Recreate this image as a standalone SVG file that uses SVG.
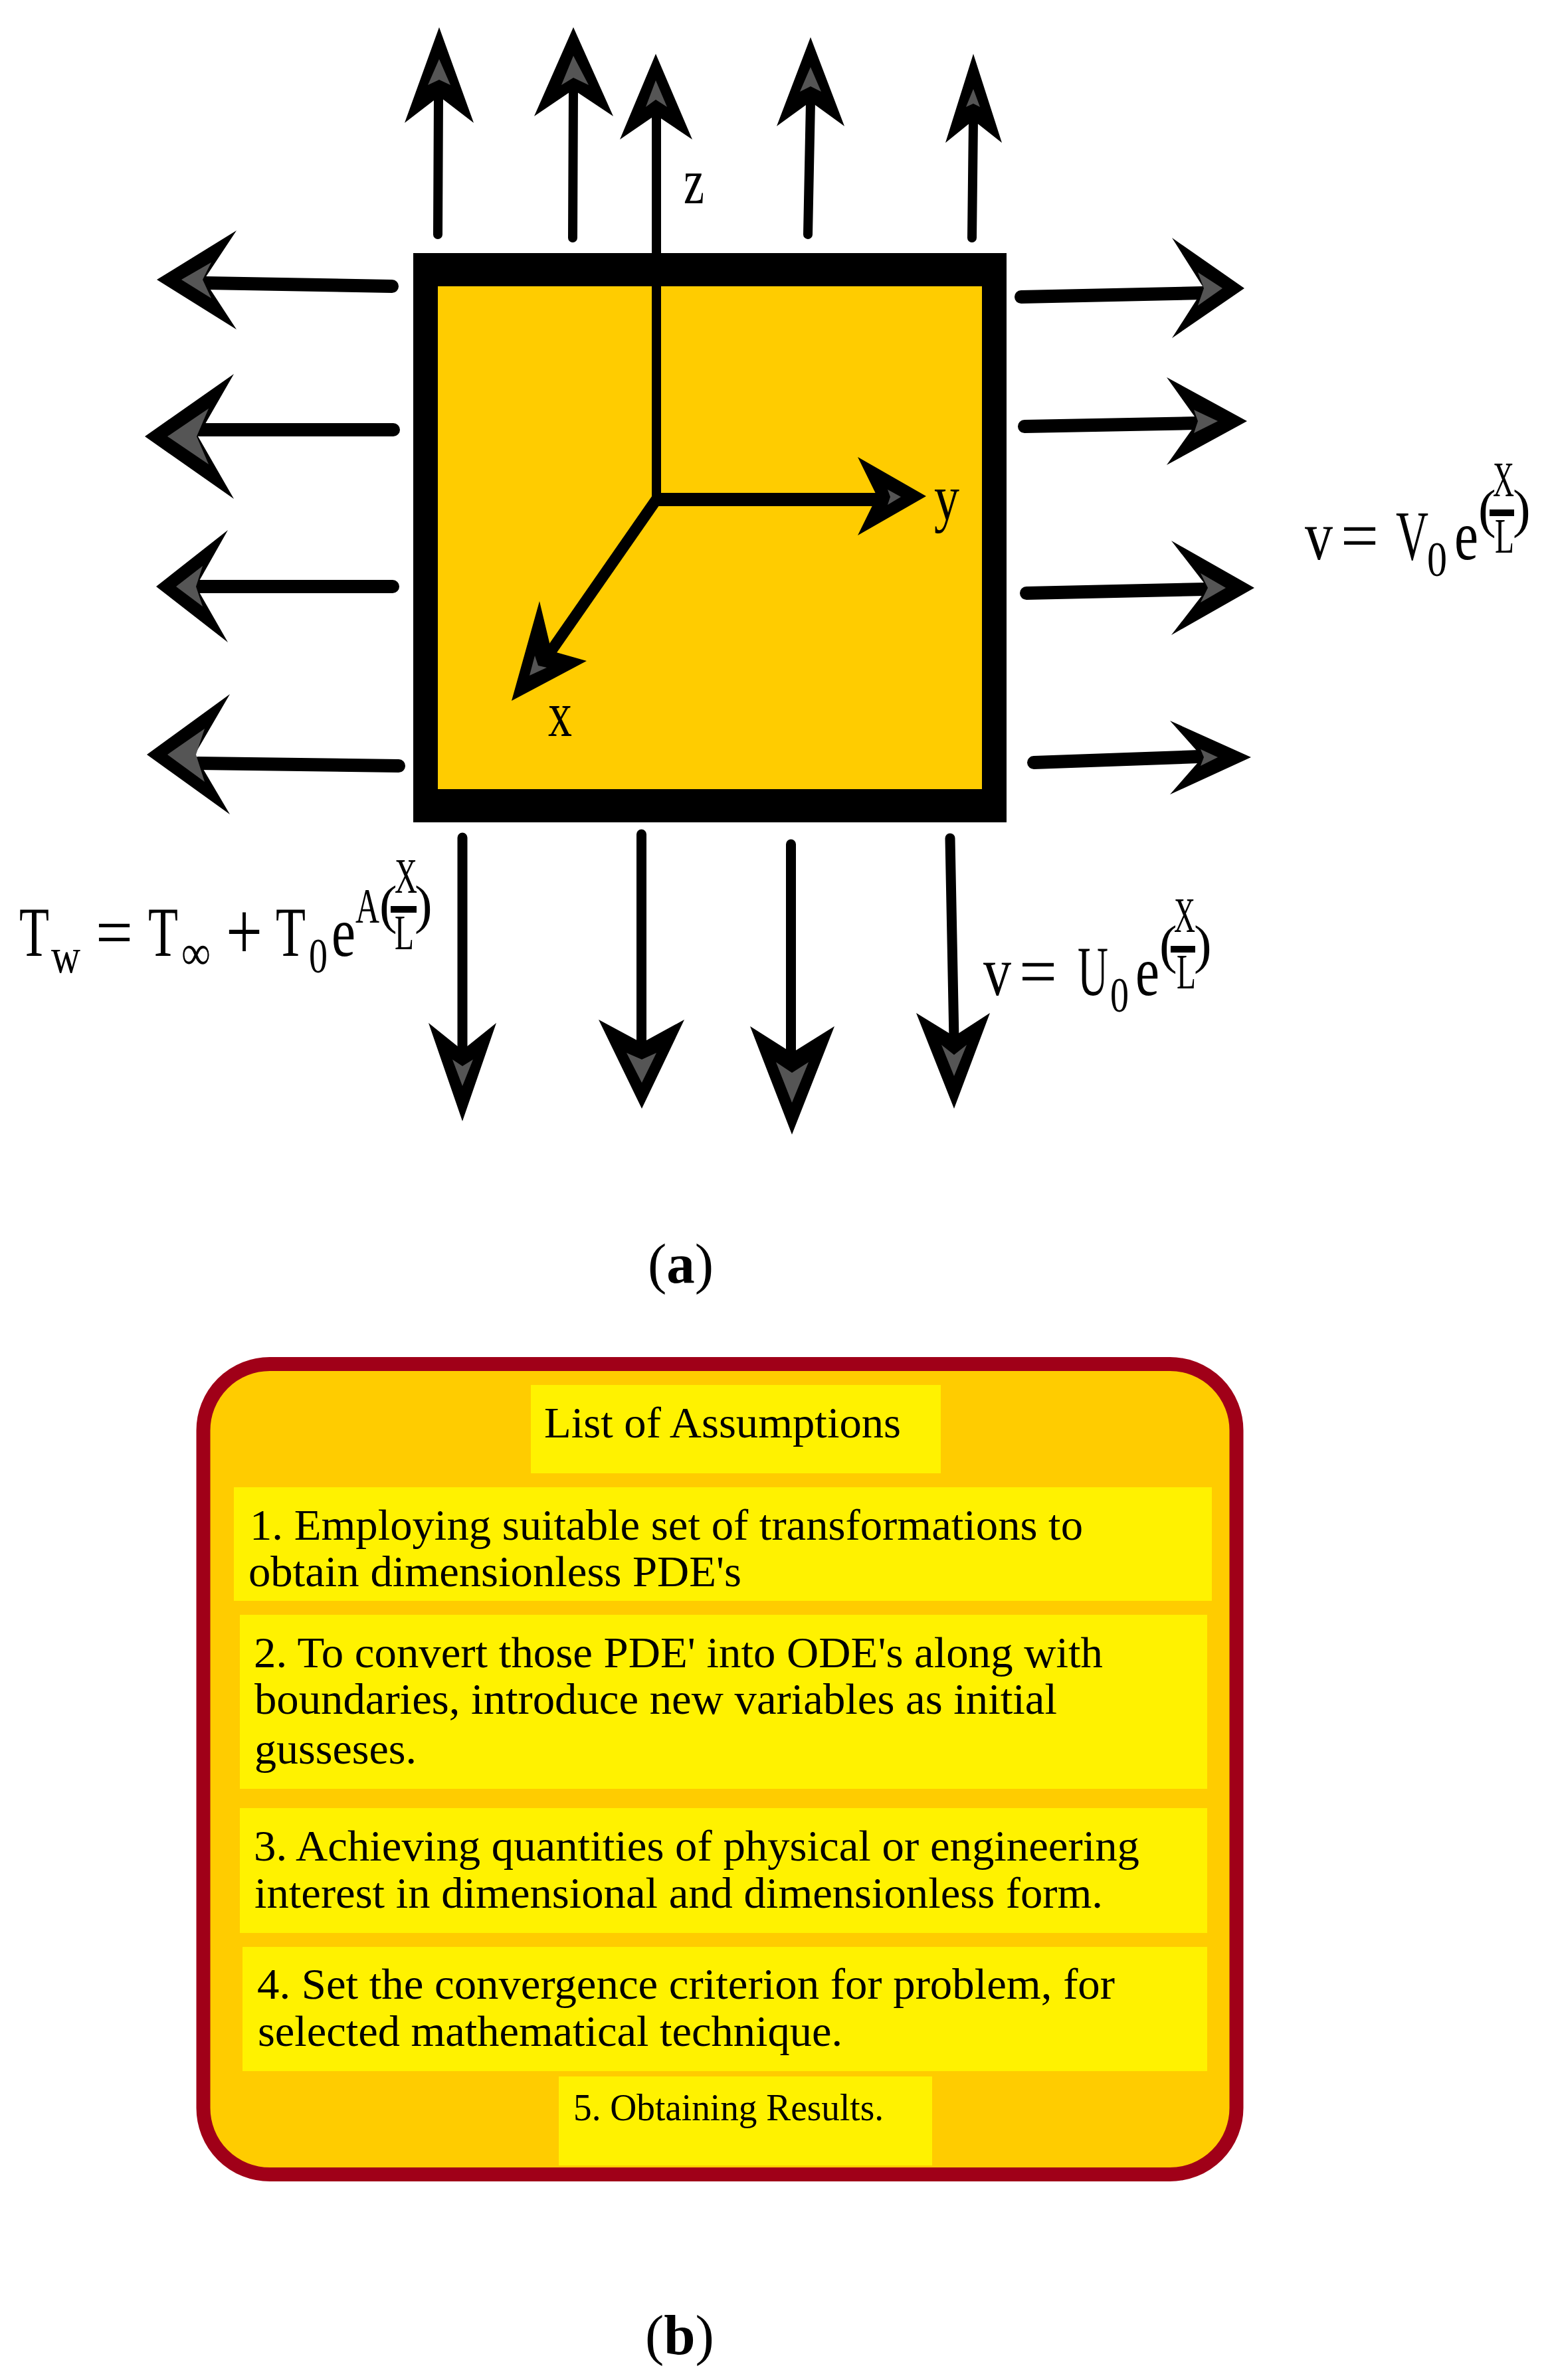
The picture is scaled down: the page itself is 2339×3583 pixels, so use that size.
<svg xmlns="http://www.w3.org/2000/svg" width="2339" height="3583" viewBox="0 0 2339 3583">
<style>
text{font-family:"Liberation Serif","Times New Roman",serif;fill:#000}
.sh{stroke:#000;stroke-linecap:round;fill:none}
.s14{stroke-width:14}.s15{stroke-width:15}.s20{stroke-width:20}
.b{fill:#000}.g{fill:#555}
.big{font-size:105px}.sub{font-size:74px}.par{font-size:80px}.plus{font-size:125px}
.lab{font-size:97px}.cap{font-size:85px}
.t65{font-size:65px}.t63{font-size:63px}.t57{font-size:57px}
.yb{fill:#FFF200}
</style>
<rect width="2339" height="3583" fill="#fff"/>
<g id="plate"><rect x="622" y="381" width="893" height="857" fill="#000"/><rect x="659" y="431" width="819" height="757" fill="#FFCC00"/></g>
<g id="connectors">
<g id="up1"><path class="sh s14" d="M659 353L660 145"/><path class="b" d="M661 41L713 185L661 145L609 185Z"/><path class="g" d="M661 89L678 128L661 120L644 128Z"/></g>
<g id="up2"><path class="sh s14" d="M862 358L863 135"/><path class="b" d="M863 41L923 175L863 135L804 175Z"/><path class="g" d="M863 84L886 128L863 117L845 128Z"/></g>
<g id="axis-z"><path class="sh s14" style="stroke-linecap:butt" d="M988 759V173"/><path class="b" d="M987 81L1042 210L987 173L933 210Z"/><path class="g" d="M987 121L1004 161L987 150L972 161Z"/></g>
<g id="up4"><path class="sh s14" d="M1216 353L1220 153"/><path class="b" d="M1220 56L1271 190L1220 153L1169 190Z"/><path class="g" d="M1220 101L1236 138L1220 130L1204 138Z"/></g>
<g id="up5"><path class="sh s14" d="M1463 358L1465 181"/><path class="b" d="M1465 81L1508 215L1465 181L1423 215Z"/><path class="g" d="M1465 134L1475 161L1465 156L1454 161Z"/></g>
<g id="left1"><path class="sh s20" d="M590 431L310 426"/><path class="b" d="M236 421L356 347L307 421L356 496Z"/><path class="g" d="M273 421L318 395L305 421L318 449Z"/></g>
<g id="left2"><path class="sh s20" d="M592 647L300 647"/><path class="b" d="M218 657L352 563L298 657L352 751Z"/><path class="g" d="M252 657L314 615L296 657L314 699Z"/></g>
<g id="left3"><path class="sh s20" d="M591 883L298 883"/><path class="b" d="M235 883L343 798L295 883L343 967Z"/><path class="g" d="M265 883L305 852L295 883L305 913Z"/></g>
<g id="left4"><path class="sh s20" d="M600 1153L298 1149"/><path class="b" d="M221 1136L346 1045L293 1136L346 1226Z"/><path class="g" d="M252 1136L308 1097L295 1136L308 1177Z"/></g>
<g id="right1"><path class="sh s20" d="M1537 447L1810 441"/><path class="b" d="M1873 434L1764 358L1812 434L1764 509Z"/><path class="g" d="M1840 434L1803 410L1812 434L1803 460Z"/></g>
<g id="right2"><path class="sh s20" d="M1542 642L1800 637"/><path class="b" d="M1877 634L1756 568L1803 634L1756 700Z"/><path class="g" d="M1833 634L1797 617L1803 634L1797 652Z"/></g>
<g id="right3"><path class="sh s20" d="M1545 893L1815 887"/><path class="b" d="M1888 885L1763 814L1818 885L1763 956Z"/><path class="g" d="M1845 885L1807 863L1818 885L1807 907Z"/></g>
<g id="right4"><path class="sh s20" d="M1556 1148L1805 1139"/><path class="b" d="M1883 1140L1761 1085L1810 1140L1761 1196Z"/><path class="g" d="M1833 1140L1807 1128L1812 1140L1807 1153Z"/></g>
<g id="down1"><path class="sh s15" d="M696 1261V1585"/><path class="b" d="M696 1688L747 1540L696 1581L645 1540Z"/><path class="g" d="M696 1635L712 1595L696 1605L681 1595Z"/></g>
<g id="down2"><path class="sh s15" d="M965.5 1256V1575"/><path class="b" d="M966 1669L1030 1535L966 1570L901 1535Z"/><path class="g" d="M966 1630L988 1585L966 1595L943 1585Z"/></g>
<g id="down3"><path class="sh s15" d="M1190.5 1271V1590"/><path class="b" d="M1192 1708L1256 1545L1192 1585L1129 1545Z"/><path class="g" d="M1192 1660L1217 1599L1192 1615L1168 1599Z"/></g>
<g id="down4"><path class="sh s15" d="M1430 1262L1436 1565"/><path class="b" d="M1436 1669L1490 1525L1436 1560L1379 1525Z"/><path class="g" d="M1436 1620L1455 1573L1436 1588L1417 1573Z"/></g>
<g id="axis-y"><path class="sh s20" style="stroke-linecap:butt" d="M981 752H1325"/><path class="b" d="M1394 747L1291 688L1320 747L1291 806Z"/><path class="g" d="M1356 748L1336 737L1340 748L1336 760Z"/></g>
<g id="axis-x"><path class="sh" style="stroke-linecap:butt;stroke-width:17" d="M988 752L826 985"/><path class="b" d="M770 1055L812 905L830 980L883 995Z"/><path class="g" d="M797 1017L805 987L810 1002L823 1005Z"/></g>
</g>
<g id="labels-axes">
<text class="lab" x="1029" y="306" textLength="31" lengthAdjust="spacingAndGlyphs">z</text>
<text class="lab" x="1406" y="782" textLength="38" lengthAdjust="spacingAndGlyphs">y</text>
<text class="lab" x="825" y="1108" textLength="36" lengthAdjust="spacingAndGlyphs">x</text>
</g>
<g id="eq-tw"><text lengthAdjust="spacingAndGlyphs"><tspan class="big" x="29" y="1439" textLength="45" lengthAdjust="spacingAndGlyphs">T</tspan><tspan class="sub" x="77" y="1464" textLength="44" lengthAdjust="spacingAndGlyphs">w</tspan><tspan class="big" x="144" y="1439" textLength="56" lengthAdjust="spacingAndGlyphs">=</tspan><tspan class="big" x="223" y="1439" textLength="45" lengthAdjust="spacingAndGlyphs">T</tspan><tspan class="sub" x="273" y="1459" textLength="44" lengthAdjust="spacingAndGlyphs">∞</tspan><tspan class="plus" x="340" y="1444" textLength="55" lengthAdjust="spacingAndGlyphs">+</tspan><tspan class="big" x="415" y="1439" textLength="45" lengthAdjust="spacingAndGlyphs">T</tspan><tspan class="sub" x="465" y="1464" textLength="28" lengthAdjust="spacingAndGlyphs">0</tspan><tspan class="big" x="499" y="1439" textLength="36" lengthAdjust="spacingAndGlyphs">e</tspan><tspan class="sub" x="535" y="1389" textLength="36" lengthAdjust="spacingAndGlyphs">A</tspan><tspan class="par" x="571" y="1389">(</tspan><tspan class="sub" x="594" y="1344" textLength="34" lengthAdjust="spacingAndGlyphs">X</tspan><tspan class="sub" x="594" y="1429" textLength="29" lengthAdjust="spacingAndGlyphs">L</tspan><tspan class="par" x="624" y="1389">)</tspan></text><rect x="588" y="1364" width="39" height="10"/></g>
<g id="eq-u"><text><tspan class="big" x="1480" y="1498" textLength="42" lengthAdjust="spacingAndGlyphs">v</tspan><tspan class="big" x="1534" y="1498" textLength="57" lengthAdjust="spacingAndGlyphs">=</tspan><tspan class="big" x="1622" y="1498" textLength="46" lengthAdjust="spacingAndGlyphs">U</tspan><tspan class="sub" x="1671" y="1523" textLength="28" lengthAdjust="spacingAndGlyphs">0</tspan><tspan class="big" x="1709" y="1498" textLength="36" lengthAdjust="spacingAndGlyphs">e</tspan><tspan class="par" x="1745" y="1449">(</tspan><tspan class="sub" x="1767" y="1403" textLength="32" lengthAdjust="spacingAndGlyphs">X</tspan><tspan class="sub" x="1771" y="1488" textLength="29" lengthAdjust="spacingAndGlyphs">L</tspan><tspan class="par" x="1797" y="1449">)</tspan></text><rect x="1762" y="1424" width="37" height="10"/></g>
<g id="eq-v"><text><tspan class="big" x="1964" y="842" textLength="42" lengthAdjust="spacingAndGlyphs">v</tspan><tspan class="big" x="2018" y="842" textLength="57" lengthAdjust="spacingAndGlyphs">=</tspan><tspan class="big" x="2101" y="842" textLength="49" lengthAdjust="spacingAndGlyphs">V</tspan><tspan class="sub" x="2148" y="867" textLength="30" lengthAdjust="spacingAndGlyphs">0</tspan><tspan class="big" x="2189" y="842" textLength="36" lengthAdjust="spacingAndGlyphs">e</tspan><tspan class="par" x="2225" y="793">(</tspan><tspan class="sub" x="2247" y="747" textLength="32" lengthAdjust="spacingAndGlyphs">X</tspan><tspan class="sub" x="2250" y="832" textLength="29" lengthAdjust="spacingAndGlyphs">L</tspan><tspan class="par" x="2277" y="793">)</tspan></text><rect x="2242" y="767" width="37" height="10"/></g>
<text id="caption-a" class="cap" x="975" y="1931">(<tspan font-weight="bold">a</tspan>)</text>
<g id="panel"><rect x="306" y="2053.5" width="1555" height="1220" rx="100" ry="100" fill="#FFCC00" stroke="#A00018" stroke-width="21"/></g>
<g id="title"><rect class="yb" x="799" y="2085" width="617" height="133"/><text class="t65" x="819" y="2164" textLength="537" lengthAdjust="spacingAndGlyphs">List of Assumptions</text></g>
<g id="item1"><rect class="yb" x="352" y="2239" width="1472" height="171"/>
<text class="t65" x="376" y="2318" textLength="1254" lengthAdjust="spacingAndGlyphs">1. Employing suitable set of transformations to</text>
<text class="t65" x="374" y="2388" textLength="742" lengthAdjust="spacingAndGlyphs">obtain dimensionless PDE's</text></g>
<g id="item2"><rect class="yb" x="361" y="2431" width="1456" height="262"/>
<text class="t65" x="382" y="2510" textLength="1278" lengthAdjust="spacingAndGlyphs">2. To convert those PDE' into ODE's along with</text>
<text class="t65" x="383" y="2580" textLength="1208" lengthAdjust="spacingAndGlyphs">boundaries, introduce new variables as initial</text>
<text class="t65" x="383" y="2655" textLength="244" lengthAdjust="spacingAndGlyphs">gusseses.</text></g>
<g id="item3"><rect class="yb" x="361" y="2722" width="1456" height="188"/>
<text class="t65" x="382" y="2801" textLength="1333" lengthAdjust="spacingAndGlyphs">3. Achieving quantities of physical or engineering</text>
<text class="t65" x="383" y="2872" textLength="1277" lengthAdjust="spacingAndGlyphs">interest in dimensional and dimensionless form.</text></g>
<g id="item4"><rect class="yb" x="365" y="2931" width="1452" height="187"/>
<text class="t65" x="387" y="3009" textLength="1291" lengthAdjust="spacingAndGlyphs">4. Set the convergence criterion for problem, for</text>
<text class="t65" x="388" y="3080" textLength="880" lengthAdjust="spacingAndGlyphs">selected mathematical technique.</text></g>
<g id="item5"><rect class="yb" x="841" y="3126" width="562" height="134"/>
<text class="t57" x="863" y="3192" textLength="467" lengthAdjust="spacingAndGlyphs">5. Obtaining Results.</text></g>
<text id="caption-b" class="cap" x="971" y="3544">(<tspan font-weight="bold">b</tspan>)</text>
</svg>
